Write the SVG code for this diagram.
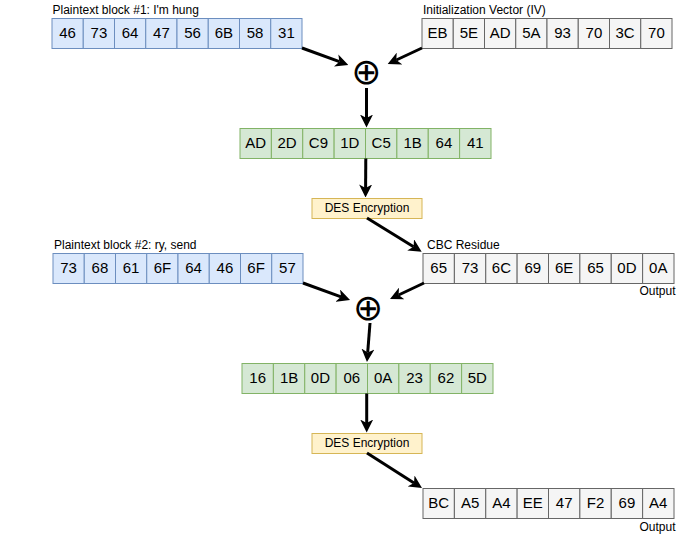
<svg xmlns="http://www.w3.org/2000/svg" width="700" height="538" viewBox="0 0 700 538">
<defs>
<marker id="ah" markerUnits="userSpaceOnUse" markerWidth="13" markerHeight="13" viewBox="0 0 13 13" refX="3.5" refY="6.5" orient="auto">
<path d="M13,6.5 L0,0 L3.5,6.5 L0,13 Z" fill="#000"/>
</marker>
</defs>
<style>
.lbl{font-family:"Liberation Sans",Arial,Helvetica,sans-serif;font-size:12px;fill:#000}
.cell{font-family:"Liberation Sans",Arial,Helvetica,sans-serif;font-size:15px;fill:#000;text-anchor:middle}
.blue rect{fill:#dae8fc;stroke:#6c8ebf;stroke-width:1}
.gray rect{fill:#f5f5f5;stroke:#666666;stroke-width:1}
.green rect{fill:#d5e8d4;stroke:#82b366;stroke-width:1}
.des rect{fill:#fff2cc;stroke:#d6b656;stroke-width:1}
.xor{font-family:"DejaVu Sans",sans-serif;font-size:36px;text-anchor:middle;fill:#000}
.conn line{stroke:#000;stroke-width:3;fill:none;marker-end:url(#ah)}
</style>
<rect width="700" height="538" fill="#fff"/>

<g id="pt1" class="blue">
<text class="lbl" x="52.5" y="14">Plaintext block #1: I'm hung</text>
<rect x="52" y="18.5" width="31.25" height="30"/><rect x="83.25" y="18.5" width="31.25" height="30"/><rect x="114.5" y="18.5" width="31.25" height="30"/><rect x="145.75" y="18.5" width="31.25" height="30"/><rect x="177" y="18.5" width="31.25" height="30"/><rect x="208.25" y="18.5" width="31.25" height="30"/><rect x="239.5" y="18.5" width="31.25" height="30"/><rect x="270.75" y="18.5" width="31.25" height="30"/>
<text class="cell" y="37.5"><tspan x="67.6">46</tspan><tspan x="98.9">73</tspan><tspan x="130.1">64</tspan><tspan x="161.4">47</tspan><tspan x="192.6">56</tspan><tspan x="223.9">6B</tspan><tspan x="255.1">58</tspan><tspan x="286.4">31</tspan></text>
</g>

<g id="iv" class="gray">
<text class="lbl" x="423" y="14">Initialization Vector (IV)</text>
<rect x="422" y="18.5" width="31.25" height="30"/><rect x="453.25" y="18.5" width="31.25" height="30"/><rect x="484.5" y="18.5" width="31.25" height="30"/><rect x="515.75" y="18.5" width="31.25" height="30"/><rect x="547" y="18.5" width="31.25" height="30"/><rect x="578.25" y="18.5" width="31.25" height="30"/><rect x="609.5" y="18.5" width="31.25" height="30"/><rect x="640.75" y="18.5" width="31.25" height="30"/>
<text class="cell" y="37.5"><tspan x="437.6">EB</tspan><tspan x="468.9">5E</tspan><tspan x="500.1">AD</tspan><tspan x="531.4">5A</tspan><tspan x="562.6">93</tspan><tspan x="593.9">70</tspan><tspan x="625.1">3C</tspan><tspan x="656.4">70</tspan></text>
</g>

<g id="xor1"><text class="xor" x="366.3" y="84">⊕</text></g>

<g id="mid1" class="green">
<rect x="240" y="128.5" width="31.375" height="30"/><rect x="271.375" y="128.5" width="31.375" height="30"/><rect x="302.75" y="128.5" width="31.375" height="30"/><rect x="334.125" y="128.5" width="31.375" height="30"/><rect x="365.5" y="128.5" width="31.375" height="30"/><rect x="396.875" y="128.5" width="31.375" height="30"/><rect x="428.25" y="128.5" width="31.375" height="30"/><rect x="459.625" y="128.5" width="31.375" height="30"/>
<text class="cell" y="147.5"><tspan x="255.7">AD</tspan><tspan x="287.1">2D</tspan><tspan x="318.4">C9</tspan><tspan x="349.8">1D</tspan><tspan x="381.2">C5</tspan><tspan x="412.6">1B</tspan><tspan x="443.9">64</tspan><tspan x="475.3">41</tspan></text>
</g>

<g id="des1" class="des">
<rect x="312" y="198.5" width="110" height="20"/>
<text class="lbl" x="367" y="212" text-anchor="middle">DES Encryption</text>
</g>

<g id="pt2" class="blue">
<text class="lbl" x="54" y="248.5">Plaintext block #2: ry, send</text>
<rect x="53" y="253.5" width="31.25" height="30"/><rect x="84.25" y="253.5" width="31.25" height="30"/><rect x="115.5" y="253.5" width="31.25" height="30"/><rect x="146.75" y="253.5" width="31.25" height="30"/><rect x="178" y="253.5" width="31.25" height="30"/><rect x="209.25" y="253.5" width="31.25" height="30"/><rect x="240.5" y="253.5" width="31.25" height="30"/><rect x="271.75" y="253.5" width="31.25" height="30"/>
<text class="cell" y="272.5"><tspan x="68.6">73</tspan><tspan x="99.9">68</tspan><tspan x="131.1">61</tspan><tspan x="162.4">6F</tspan><tspan x="193.6">64</tspan><tspan x="224.9">46</tspan><tspan x="256.1">6F</tspan><tspan x="287.4">57</tspan></text>
</g>

<g id="cbc" class="gray">
<text class="lbl" x="427" y="249">CBC Residue</text>
<rect x="423" y="253.5" width="31.375" height="30"/><rect x="454.375" y="253.5" width="31.375" height="30"/><rect x="485.75" y="253.5" width="31.375" height="30"/><rect x="517.125" y="253.5" width="31.375" height="30"/><rect x="548.5" y="253.5" width="31.375" height="30"/><rect x="579.875" y="253.5" width="31.375" height="30"/><rect x="611.25" y="253.5" width="31.375" height="30"/><rect x="642.625" y="253.5" width="31.375" height="30"/>
<text class="cell" y="272.5"><tspan x="438.7">65</tspan><tspan x="470.1">73</tspan><tspan x="501.4">6C</tspan><tspan x="532.8">69</tspan><tspan x="564.2">6E</tspan><tspan x="595.6">65</tspan><tspan x="626.9">0D</tspan><tspan x="658.3">0A</tspan></text>
<text class="lbl" x="675.5" y="294.5" text-anchor="end">Output</text>
</g>

<g id="xor2"><text class="xor" x="368" y="319.5">⊕</text></g>

<g id="mid2" class="green">
<rect x="242" y="363.5" width="31.375" height="30"/><rect x="273.375" y="363.5" width="31.375" height="30"/><rect x="304.75" y="363.5" width="31.375" height="30"/><rect x="336.125" y="363.5" width="31.375" height="30"/><rect x="367.5" y="363.5" width="31.375" height="30"/><rect x="398.875" y="363.5" width="31.375" height="30"/><rect x="430.25" y="363.5" width="31.375" height="30"/><rect x="461.625" y="363.5" width="31.375" height="30"/>
<text class="cell" y="382.5"><tspan x="257.7">16</tspan><tspan x="289.1">1B</tspan><tspan x="320.4">0D</tspan><tspan x="351.8">06</tspan><tspan x="383.2">0A</tspan><tspan x="414.6">23</tspan><tspan x="445.9">62</tspan><tspan x="477.3">5D</tspan></text>
</g>

<g id="des2" class="des">
<rect x="312" y="433.5" width="110" height="20"/>
<text class="lbl" x="367" y="447" text-anchor="middle">DES Encryption</text>
</g>

<g id="out" class="gray">
<rect x="423" y="488.5" width="31.375" height="30"/><rect x="454.375" y="488.5" width="31.375" height="30"/><rect x="485.75" y="488.5" width="31.375" height="30"/><rect x="517.125" y="488.5" width="31.375" height="30"/><rect x="548.5" y="488.5" width="31.375" height="30"/><rect x="579.875" y="488.5" width="31.375" height="30"/><rect x="611.25" y="488.5" width="31.375" height="30"/><rect x="642.625" y="488.5" width="31.375" height="30"/>
<text class="cell" y="507.5"><tspan x="438.7">BC</tspan><tspan x="470.1">A5</tspan><tspan x="501.4">A4</tspan><tspan x="532.8">EE</tspan><tspan x="564.2">47</tspan><tspan x="595.6">F2</tspan><tspan x="626.9">69</tspan><tspan x="658.3">A4</tspan></text>
<text class="lbl" x="675.5" y="530.5" text-anchor="end">Output</text>
</g>

<g id="connectors" class="conn">
<line x1="302" y1="48" x2="339.4" y2="61.7"/>
<line x1="422" y1="48" x2="396.3" y2="60"/>
<line x1="366.5" y1="88" x2="366.5" y2="118"/>
<line x1="365.8" y1="158.5" x2="365.6" y2="188"/>
<line x1="367" y1="218" x2="413.6" y2="246.7"/>
<line x1="303" y1="283" x2="341.1" y2="296.8"/>
<line x1="424" y1="283" x2="398.6" y2="295"/>
<line x1="370" y1="323" x2="367.7" y2="352.5"/>
<line x1="366.7" y1="393.5" x2="366.7" y2="423"/>
<line x1="367" y1="453" x2="414" y2="482.9"/>
</g>
</svg>
